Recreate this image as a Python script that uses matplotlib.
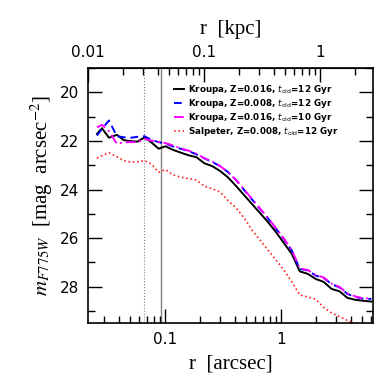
import matplotlib
matplotlib.use("Agg")
import matplotlib.pyplot as plt
import matplotlib.ticker as mticker
from matplotlib.font_manager import FontProperties

# ── Data ──────────────────────────────────────────────────────────────────────
r_arcsec = [0.0260, 0.0287, 0.0330, 0.0386, 0.0443, 0.0508, 0.0583, 0.0670,
            0.0769, 0.0883, 0.1014, 0.1164, 0.1364, 0.1597, 0.1870, 0.2190,
            0.2564, 0.300, 0.3514, 0.4115, 0.4819, 0.5643, 0.6608, 0.7738,
            0.9061, 1.061, 1.242, 1.455, 1.703, 1.994, 2.335, 2.735,
            3.202, 3.750, 4.391, 5.142, 6.021]

kroupa_z016_12 = [21.71, 21.48, 21.87, 21.75, 21.97, 22.01, 22.03, 21.85,
                  22.07, 22.32, 22.22, 22.36, 22.48, 22.59, 22.67, 22.92,
                  23.04, 23.24, 23.51, 23.86, 24.23, 24.60, 24.97, 25.34,
                  25.75, 26.20, 26.65, 27.37, 27.47, 27.68, 27.80, 28.09,
                  28.19, 28.46, 28.54, 28.58, 28.61]

kroupa_z008_12 = [21.78, 21.51, 21.16, 21.81, 21.85, 21.87, 21.83, 21.81,
                  21.96, 22.05, 22.11, 22.22, 22.32, 22.42, 22.55, 22.72,
                  22.87, 23.04, 23.29, 23.61, 24.02, 24.41, 24.80, 25.19,
                  25.61, 26.04, 26.51, 27.27, 27.33, 27.54, 27.64, 27.89,
                  28.03, 28.30, 28.42, 28.50, 28.50]

kroupa_z016_10 = [21.44, 21.34, 21.60, 22.12, 22.05, 22.05, 22.05, 21.92,
                  21.99, 22.04, 22.09, 22.18, 22.30, 22.40, 22.53, 22.71,
                  22.85, 23.04, 23.29, 23.61, 24.00, 24.39, 24.78, 25.17,
                  25.59, 26.02, 26.49, 27.25, 27.31, 27.52, 27.62, 27.87,
                  28.01, 28.28, 28.40, 28.48, 28.48]

salpeter_z008_12 = [22.71, 22.61, 22.49, 22.65, 22.81, 22.87, 22.86, 22.81,
                    22.96, 23.29, 23.18, 23.39, 23.49, 23.55, 23.61, 23.86,
                    23.97, 24.11, 24.46, 24.76, 25.17, 25.67, 26.08, 26.49,
                    26.90, 27.31, 27.80, 28.34, 28.42, 28.52, 28.85, 29.08,
                    29.23, 29.39, 29.53, 29.65, 29.77]

labels = [r"Kroupa, Z=0.016, $t_{\rm old}$=12 Gyr",
          r"Kroupa, Z=0.008, $t_{\rm old}$=12 Gyr",
          r"Kroupa, Z=0.016, $t_{\rm old}$=10 Gyr",
          r"Salpeter, Z=0.008, $t_{\rm old}$=12 Gyr"]

vlines_arcsec = [0.0657, 0.092]   # dotted, solid
kpc_ticks = [0.01, 0.1, 1]
KPC_PER_ARCSEC = 0.46

# ── Style ─────────────────────────────────────────────────────────────────────
plt.rcParams["mathtext.fontset"] = "stix"
SERIF = "Liberation Serif"

fig = plt.figure(figsize=(3.82, 3.82), dpi=100)
ax = fig.add_axes([0.230, 0.154, 0.746, 0.668])

ax.axvline(vlines_arcsec[0], color="#808080", lw=0.8, ls=":", zorder=1)
ax.axvline(vlines_arcsec[1], color="#808080", lw=1.0, ls="-", zorder=1)

ax.plot(r_arcsec, kroupa_z016_12, color="black", lw=1.4, ls="-", label=labels[0])
ax.plot(r_arcsec, kroupa_z008_12, color="#0000ff", lw=1.4, ls=(0, (4, 2.5)), label=labels[1])
ax.plot(r_arcsec, kroupa_z016_10, color="#ff00ff", lw=1.4, ls=(0, (5, 2, 1, 2)), label=labels[2])
ax.plot(r_arcsec, salpeter_z008_12, color="#ff2020", lw=1.2, ls=(0, (1, 1.6)), label=labels[3])

ax.set_xscale("log")
ax.set_xlim(0.0217, 6.2)
ax.set_ylim(29.5, 19.0)

ax.yaxis.set_major_locator(mticker.MultipleLocator(2))
ax.yaxis.set_minor_locator(mticker.MultipleLocator(1))
ax.xaxis.set_major_formatter(mticker.FuncFormatter(lambda v, p: f"{v:g}"))

for s in ax.spines.values():
    s.set_linewidth(1.2)
ax.tick_params(which="both", direction="in", top=False, right=True,
               labelsize=11, width=1.0)
ax.tick_params(which="major", length=10, pad=6)
ax.tick_params(which="minor", length=5)

sec = ax.secondary_xaxis("top", functions=(lambda r: r * KPC_PER_ARCSEC,
                                           lambda k: k / KPC_PER_ARCSEC))
sec.set_xticks(kpc_ticks)
sec.xaxis.set_major_formatter(mticker.FuncFormatter(lambda v, p: f"{v:g}"))
sec.tick_params(which="both", direction="in", labelsize=11, width=1.0)
sec.tick_params(which="major", length=10, pad=6)
sec.tick_params(which="minor", length=5)
sec.set_xlabel("r  [kpc]", family=SERIF, fontsize=15, labelpad=8)

ax.set_xlabel("r  [arcsec]", family=SERIF, fontsize=15, labelpad=6)
ax.set_ylabel(r"$m_{F775W}$  [mag  arcsec$^{-2}$]", family=SERIF, fontsize=15)

leg_font = FontProperties(family="DejaVu Sans", weight="bold", size=6.3,
                          math_fontfamily="dejavusans")
ax.legend(loc="upper left", bbox_to_anchor=(0.29, 0.955), frameon=False,
          prop=leg_font, handlelength=1.1, handletextpad=0.5,
          labelspacing=0.12, borderaxespad=0)

fig.savefig("out.png", dpi=100)
